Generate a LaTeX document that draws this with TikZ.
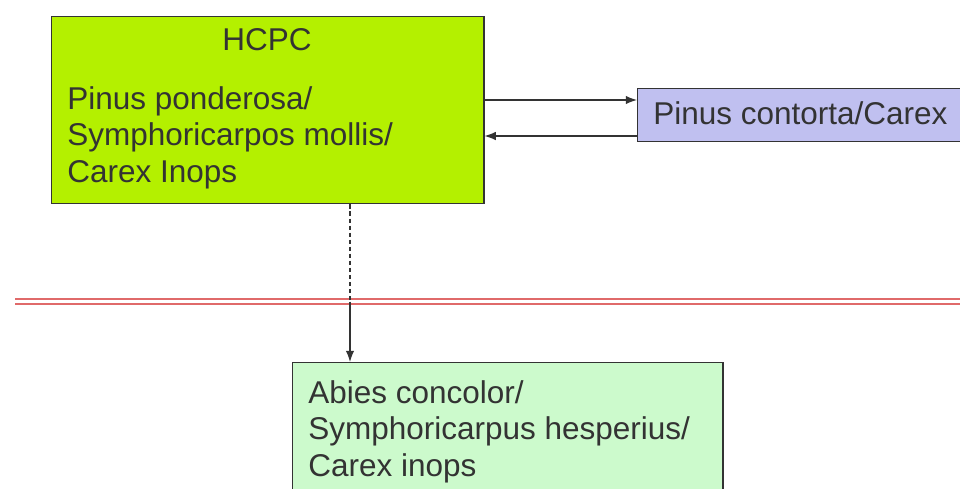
\documentclass[tikz,border=0pt]{standalone}
\usepackage{fontspec}
\setmainfont{Liberation Sans}
\usetikzlibrary{positioning, arrows.meta}

\definecolor{hcpcgreen}{HTML}{B4F000}
\definecolor{contortablue}{HTML}{C0C0F0}
\definecolor{abiesgreen}{HTML}{CCFACC}
\definecolor{boxline}{HTML}{333333}
\definecolor{zonered}{HTML}{E06A6A}

\begin{document}
\begin{tikzpicture}[
    x=0.025cm, y=-0.025cm,
    font=\fontsize{22.4}{26}\selectfont,
    % Define styles for the community boxes
    community/.style={rectangle, draw=boxline, line width=1pt, inner sep=0pt, anchor=north west},
    hcpcbox/.style={community, fill=hcpcgreen, minimum width=10.8cm, minimum height=4.675cm},
    contortabox/.style={community, fill=contortablue, minimum width=8.5cm, minimum height=1.325cm},
    abiesbox/.style={community, fill=abiesgreen, minimum width=10.75cm, minimum height=3.75cm},
    sppname/.style={inner sep=0pt, align=left, text=black!80},
    arrow/.style={-{Latex[length=8pt,width=6pt]}, line width=0.8pt, draw=black!80},
    zoneline/.style={draw=zonered, line width=0.9pt, double=white, double distance=2.6pt}
]
\useasboundingbox (0,0) rectangle (960,488);
\clip (0,0) rectangle (960,488);

% --- Boxes ---
\node[hcpcbox] (hcpc) at (51,16) {};
\node[contortabox] (contorta) at (637,88) {};
\node[abiesbox] (abies) at (292,362) {};

% --- Texts ---
\node[sppname, anchor=base] (hcpctitle) at (267,50) {HCPC};
\node[sppname, anchor=north west] (hcpcspp) at (67,86) {Pinus ponderosa/\\Symphoricarpos mollis/\\Carex Inops};
\node[sppname, anchor=base west] (contortaspp) at (653,124) {Pinus contorta/Carex};
\node[sppname, anchor=north west] (abiesspp) at (308,380) {Abies concolor/\\Symphoricarpus hesperius/\\Carex inops};

% --- Threshold line ---
\draw[zoneline] (15,301.5) -- (960,301.5);

% --- Routing Arrows ---
\coordinate (upper) at (560,100);
\coordinate (lower) at (560,136);
\coordinate (split) at (350,301.5);

\draw[arrow] (hcpc.east |- upper) -- (contorta.west |- upper);
\draw[arrow] (contorta.west |- lower) -- (hcpc.east |- lower);

\draw[line width=0.8pt, draw=black!80, dash pattern=on 3pt off 2pt] (hcpc.south -| split) -- (split);
\draw[arrow] (split) -- (abies.north -| split);

\end{tikzpicture}
\end{document}
